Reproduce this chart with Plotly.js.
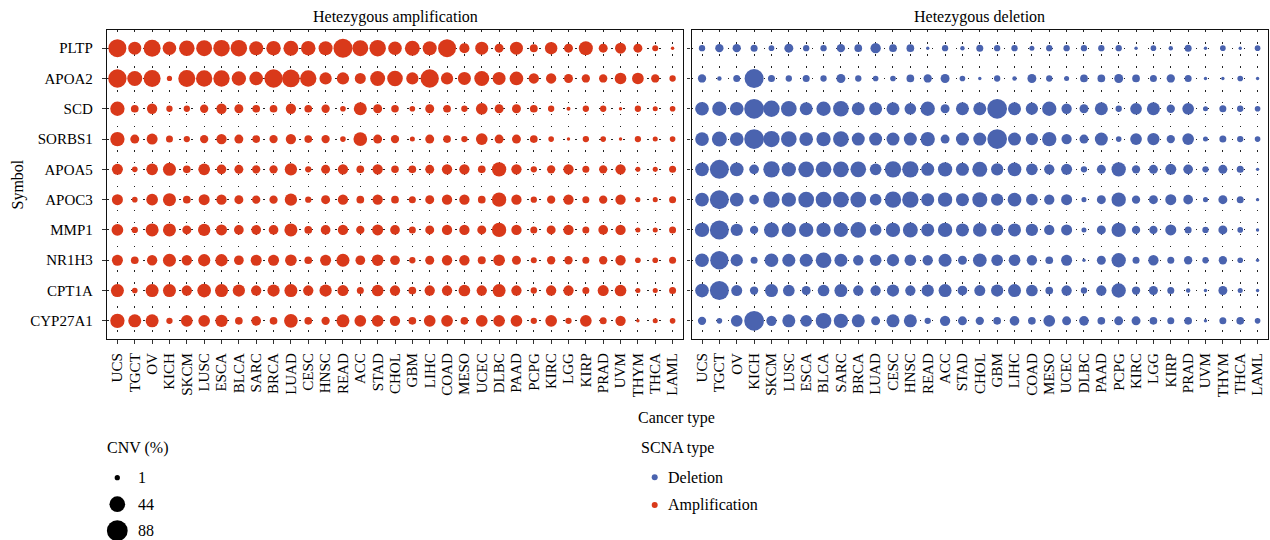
<!DOCTYPE html>
<html><head><meta charset="utf-8">
<script src="https://cdn.plot.ly/plotly-3.0.1.min.js"></script>
<style>html,body{margin:0;padding:0;background:#fff}</style>
</head><body><div id="chart" style="width:1270px;height:540px"></div>
<script>
const cancers = ["UCS","TGCT","OV","KICH","SKCM","LUSC","ESCA","BLCA","SARC","BRCA","LUAD","CESC","HNSC","READ","ACC","STAD","CHOL","GBM","LIHC","COAD","MESO","UCEC","DLBC","PAAD","PCPG","KIRC","LGG","KIRP","PRAD","UVM","THYM","THCA","LAML"];
const genes = ["PLTP","APOA2","SCD","SORBS1","APOA5","APOC3","MMP1","NR1H3","CPT1A","CYP27A1"];

// CNV (%) — heterozygous amplification
const ampPLTP    = [62,27,54,30,43,46,50,50,33,36,39,36,33,71,46,50,30,39,33,62,13,27,9,27,6,24,9,33,9,17,9,2,0];
const ampAPOA2   = [65,39,54,1,54,49,49,35,31,65,60,49,23,23,17,39,43,23,65,23,27,39,27,31,14,14,9,7,7,20,20,7,2.5];
const ampSCD     = [35,5.4,14,2.5,2.5,7,14,9,5.4,5.4,14,5.4,7,1.5,27,9,5,1.5,9,5.4,2.5,20,9,9,5.4,2.5,0.1,2.5,2.5,0,2.5,0.8,1.5];
const ampSORBS1  = [35,9,17,3.8,2.5,7,14,9,5.4,7,14,5.4,7,1.5,31,9,7,0.8,9,5.4,2.5,20,9,9,5.4,1.5,0,2.5,1.5,0,2.5,0.8,1.5];
const ampAPOA5   = [17,1.5,20,27,5.4,20,11.6,9,7,7,23,2.5,9,14,5.4,14,5,5.4,9,14,14,5.4,35,14,2.5,7,14,3.8,7,14,0.8,0.8,3.8];
const ampAPOC3   = [17,1.5,20,27,5.4,17,14,9,7,7,23,2.5,9,14,5.4,14,5.4,3.8,9,14,14,5.4,35,14,2.5,7,14,3.8,7,14,0.8,0.8,3.8];
const ampMMP1    = [20,2.5,27,27,9,23,17,11.6,11.6,11.6,27,5.4,11.6,14,7,17,11.6,3.8,9,14,14,9,35,14,3.8,9,14,3.8,11.6,14,0.8,0.8,3.8];
const ampNR1H3   = [17,5.4,14,27,14,23,23,11.6,17,17,20,5.4,17,27,11.6,20,11.6,2.5,9,14,14,6.2,20,9,2,7,7,3.8,7,14,1.5,1.5,3.8];
const ampCPT1A   = [27,1.5,27,27,14,31,27,23,14,23,27,14,23,17,3.8,20,14,5.4,14,14,20,14,27,14,2.5,14,14,3.8,17,20,0.8,0.8,3.8];
const ampCYP27A1 = [35,27,27,2.5,20,20,23,5.4,11.6,5.4,31,5.4,7,27,20,20,14,5.4,20,20,5.4,20,20,20,2.5,20,2.5,20,3.8,14,0,0.8,1.5];

// CNV (%) — heterozygous deletion
const delPLTP    = [2.5,7,7,3.8,1.5,9,2.5,2.5,7,5.4,14,5.4,5.4,0,2.5,0.3,3.8,2.5,2.5,0.8,2.5,2.5,2.5,2.5,2.5,0,1.5,0.3,3.8,0,1.5,0,1.5];
const delAPOA2   = [7,0.3,3.8,71,3.8,2.5,3.8,2.5,9,2.5,1.5,1.5,5.4,7,9,1.5,0,2.5,0.3,9,2.5,0.8,5.4,5.4,9,5.4,3.8,7,3.8,0,0,1.5,0];
const delSCD     = [31,35,31,78,49,44,27,35,44,27,27,27,20,35,9,27,27,78,27,23,35,14,9,27,2.5,20,27,7,20,0.8,3.8,2.5,1.5];
const delSORBS1  = [31,39,31,78,49,44,31,35,44,27,27,27,27,35,9,27,27,78,27,23,35,14,9,27,1.5,20,23,7,20,0.8,3.8,2.5,1.5];
const delAPOA5   = [31,71,31,11.6,49,35,44,44,44,44,20,49,49,27,35,27,39,23,31,20,14,17,2.5,9,35,7,9,17,11.6,2.5,9,3.8,0];
const delAPOC3   = [31,71,31,11.6,49,35,44,44,44,44,20,49,49,27,35,27,39,23,31,20,14,17,0.8,9,35,7,9,17,11.6,0.8,9,3.8,0];
const delMMP1    = [35,71,23,7,39,35,35,35,35,44,20,35,39,27,35,27,31,23,27,23,14,17,0.8,9,35,7,7,17,3.8,2.5,9,1.5,0];
const delNR1H3   = [31,65,23,3.8,31,27,27,44,27,14,20,23,20,14,27,9,31,20,20,14,5.4,17,0,9,35,3.8,14,3.8,7,2.5,7,1.5,0];
const delCPT1A   = [31,71,17,7,27,20,9,20,27,14,14,23,14,23,27,11.6,17,23,27,20,5.4,14,2.5,14,35,7,9,3.8,0.3,0,9,0.8,0];
const delCYP27A1 = [7,1.5,20,78,14,27,20,44,35,27,9,27,27,2.5,14,9,7,5.4,11.6,5.4,20,9,11.6,5.4,9,9,5.4,3.8,5.4,0,3.8,5.4,1.5];

const legendSizes = [1,44,88];
const scnaTypes = ["Deletion","Amplification"];
const panelTitles = ["Hetezygous amplification","Hetezygous deletion"];

const ampRows = [ampPLTP,ampAPOA2,ampSCD,ampSORBS1,ampAPOA5,ampAPOC3,ampMMP1,ampNR1H3,ampCPT1A,ampCYP27A1];
const delRows = [delPLTP,delAPOA2,delSCD,delSORBS1,delAPOA5,delAPOC3,delMMP1,delNR1H3,delCPT1A,delCYP27A1];

const RED = '#D9391A', BLUE = '#4A63AF';
const W = 1270, H = 540;
const px = v => v / W, py = v => (H - v) / H;
function sizeOf(v){ return 3.4 + 1.85 * Math.sqrt(Math.max(v, 0)); }

function panelTrace(rows, color, xa, ya, name){
  const x = [], y = [], s = [], c = [];
  genes.forEach((g, gi) => rows[gi].forEach((val, ci) => {
    x.push(cancers[ci]); y.push(g); s.push(sizeOf(val)); c.push(val);
  }));
  return {type:'scatter', mode:'markers', x, y, xaxis:xa, yaxis:ya, name,
    customdata:c, hovertemplate:'%{y} / %{x}: %{customdata}%<extra></extra>',
    marker:{size:s, sizemode:'diameter', color, opacity:1, line:{width:0}},
    cliponaxis:false, showlegend:false};
}

const FAM = '"Liberation Serif","Times New Roman",serif';
const tickFont = {family:FAM, size:15, color:'#000'};
const font = {family:FAM, size:16, color:'#000'};
const common = {type:'category', showgrid:true, gridcolor:'#222', gridwidth:1, griddash:'1.5px,10.5px',
  zeroline:false, showline:true, linecolor:'#111', linewidth:1.4, mirror:true,
  ticks:'outside', ticklen:4, tickcolor:'#333', tickwidth:1, tickfont:tickFont, fixedrange:true};
const xCommon = Object.assign({}, common, {categoryorder:'array', categoryarray:cancers, range:[-0.6, 32.6],
  tickmode:'array', tickvals:cancers, ticktext:cancers, tickangle:-90, ticklabelstandoff:3});
const yCommon = Object.assign({}, common, {categoryorder:'array', categoryarray:genes, range:[9.6, -0.6],
  tickmode:'array', tickvals:genes, ticktext:genes, domain:[py(339), py(30)]});

const traces = [
  panelTrace(ampRows, RED, 'x', 'y', 'Amplification'),
  panelTrace(delRows, BLUE, 'x2', 'y2', 'Deletion'),
  {type:'scatter', mode:'markers', x:legendSizes.map(()=>0.5), y:legendSizes.map(String), xaxis:'x3', yaxis:'y3',
   marker:{size:legendSizes.map(sizeOf), color:'#000', opacity:1, line:{width:0}}, cliponaxis:false, showlegend:false, hoverinfo:'skip'},
  {type:'scatter', mode:'markers', x:scnaTypes.map(()=>0.5), y:scnaTypes, xaxis:'x4', yaxis:'y4',
   marker:{size:6, color:[BLUE, RED], opacity:1, line:{width:0}}, cliponaxis:false, showlegend:false, hoverinfo:'skip'}
];

const ann = (text, x, y, extra) => Object.assign({text, x, y, xref:'paper', yref:'paper', showarrow:false, font, xanchor:'center', yanchor:'middle'}, extra||{});

const layout = {
  width:W, height:H, margin:{l:0,r:0,t:0,b:0,pad:0}, paper_bgcolor:'#fff', plot_bgcolor:'#fff',
  font, hovermode:'closest', showlegend:false,
  xaxis: Object.assign({}, xCommon, {domain:[px(107), px(683)], anchor:'y'}),
  xaxis2: Object.assign({}, xCommon, {domain:[px(691.6), px(1268)], anchor:'y2'}),
  yaxis: Object.assign({}, yCommon, {anchor:'x', ticklabelstandoff:6}),
  yaxis2: Object.assign({}, yCommon, {anchor:'x2', showticklabels:false, ticklen:3}),
  xaxis3: {domain:[px(110), px(124.6)], range:[0,1], visible:false, anchor:'y3', fixedrange:true},
  yaxis3: {domain:[py(538.65), py(469.75)], type:'category', categoryorder:'array', categoryarray:legendSizes.map(String), range:[2.3,-0.3], visible:false, anchor:'x3', fixedrange:true},
  xaxis4: {domain:[px(648), px(661.4)], range:[0,1], visible:false, anchor:'y4', fixedrange:true},
  yaxis4: {domain:[py(513.3), py(469)], type:'category', categoryorder:'array', categoryarray:scnaTypes, range:[1.3,-0.3], visible:false, anchor:'x4', fixedrange:true},
  annotations: [
    ann(panelTitles[0], px(395), py(17)),
    ann(panelTitles[1], px(979.8), py(17)),
    ann('Symbol', px(17), py(184.5), {textangle:-90}),
    ann('Cancer type', px(676), py(418.3)),
    ann('CNV (%)', px(105), py(448), {xanchor:'left'}),
    ann('SCNA type', px(639), py(448), {xanchor:'left'}),
    ...legendSizes.map((s, i) => ann(String(s), px(136), i, {xanchor:'left', yref:'y3'})),
    ...scnaTypes.map((s, i) => ann(s, px(665.5), i, {xanchor:'left', yref:'y4'}))
  ]
};

Plotly.newPlot('chart', traces, layout, {displayModeBar:false});
</script></body></html>
